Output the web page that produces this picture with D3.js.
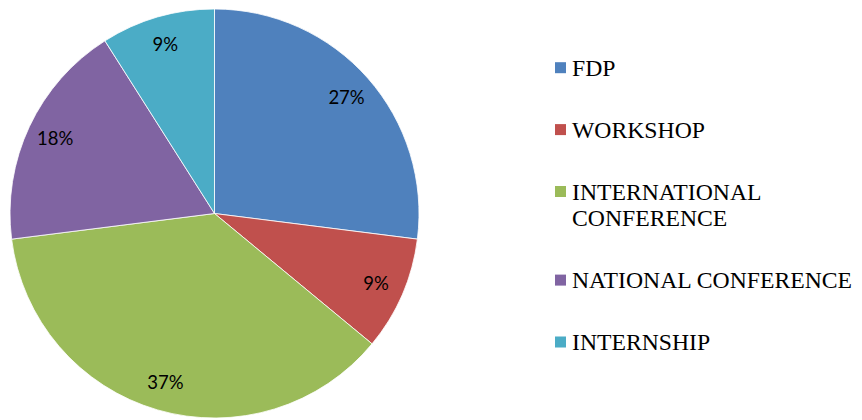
<!DOCTYPE html>
<html>
<head>
<meta charset="utf-8">
<style>
  html, body { margin: 0; padding: 0; background: #fff; }
</style>
</head>
<body>
<div class="pieChart"></div>
<script src="https://d3js.org/d3.v7.min.js"></script>
<script>
  // data (percent shares as shown on the chart)
  const categories = ["FDP", "WORKSHOP", "INTERNATIONAL CONFERENCE", "NATIONAL CONFERENCE", "INTERNSHIP"];
  const shares = [27, 9, 37, 18, 9];
  const colors = ["#4F81BD", "#C0504D", "#9BBB59", "#8064A2", "#4BACC6"];

  const width = 862, height = 420;
  const cx = 214.5, cy = 213.5, radius = 204.5;

  const data = categories.map((c, i) => ({ name: c, value: shares[i] }));
  const total = d3.sum(shares);

  const svg = d3.select(".pieChart")
    .append("svg")
    .attr("width", width)
    .attr("height", height);

  const pie = d3.pie().sort(null).value(d => d.value);
  const arc = d3.arc().innerRadius(0).outerRadius(radius);
  const labelArc = d3.arc().innerRadius(176).outerRadius(176);

  const g = svg.append("g")
    .attr("transform", `translate(${cx},${cy})`);

  const slices = g.selectAll("g.slice")
    .data(pie(data))
    .enter()
    .append("g")
    .attr("class", "slice");

  slices.append("path")
    .attr("d", arc)
    .attr("fill", (d, i) => colors[i])
    .attr("stroke", "#fff")
    .attr("stroke-width", 0.8);

  // percent labels
  slices.append("text")
    .style("font-family", "Lato")
    .style("font-size", "18.5px")
    .attr("transform", d => `translate(${labelArc.centroid(d)})`)
    .attr("dy", "0.36em")
    .attr("text-anchor", "middle")
    .text(d => d3.format(".0%")(d.data.value / total));

  // legend: wrap names with a canvas measure, one <text> per line
  const legendFont = "23.7px \"Liberation Serif\"";
  const ctx = document.createElement("canvas").getContext("2d");
  ctx.font = legendFont;
  const lineH = 26.7, gap = 35.2, maxW = 288;

  function wrap(name) {
    const out = [];
    let cur = "";
    name.split(" ").forEach(w => {
      const test = cur ? cur + " " + w : w;
      if (cur && ctx.measureText(test).width > maxW) { out.push(cur); cur = w; }
      else cur = test;
    });
    out.push(cur);
    return out;
  }

  const legend = svg.append("g");
  let y = 75.7;
  data.forEach((d, i) => {
    legend.append("rect")
      .attr("x", 555)
      .attr("y", y - 13.5)
      .attr("width", 11)
      .attr("height", 11)
      .attr("fill", colors[i]);
    const lines = wrap(d.name);
    lines.forEach((ln, j) => {
      legend.append("text")
        .attr("x", 572)
        .attr("y", y + j * lineH)
        .style("font-family", "\"Liberation Serif\"")
        .style("font-size", "23.7px")
        .text(ln);
    });
    y += lines.length * lineH + gap;
  });
</script>
</body>
</html>
